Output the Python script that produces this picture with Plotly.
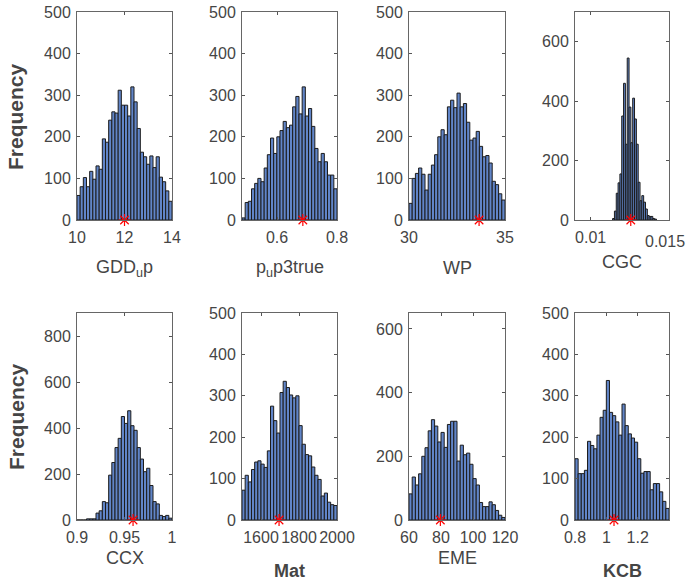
import numpy as np
import plotly.graph_objects as go

W, H = 687, 584

# ---------------- data ----------------
names = ["GDD<sub>u</sub>p", "p<sub>u</sub>p3true", "WP", "CGC", "CCX", "<b>Mat</b>", "EME", "<b>KCB</b>"]

gdd_counts = [59, 80, 102, 80, 117, 98, 130, 122, 195, 187, 240, 260, 257, 312, 276,
              276, 250, 320, 284, 220, 163, 152, 134, 154, 126, 152, 103, 92, 70, 45]
pup_counts = [5, 42, 45, 75, 88, 100, 92, 125, 157, 197, 160, 200, 215, 237, 222,
              228, 272, 297, 255, 320, 250, 268, 225, 172, 140, 160, 140, 108, 108, 75]
wp_counts = [40, 100, 112, 125, 110, 72, 110, 132, 157, 200, 217, 205, 272, 288, 270,
             305, 272, 280, 235, 192, 197, 213, 177, 152, 155, 137, 93, 85, 63, 48]
cgc_counts = [5, 30, 90, 125, 155, 350, 460, 255, 545, 380, 260, 410, 340, 255, 127,
              65, 82, 60, 37, 15, 12, 12, 5, 3]
ccx_counts = [0, 0, 0, 5, 5, 5, 30, 40, 80, 75, 195, 250, 315, 355, 450,
              420, 475, 410, 390, 315, 265, 210, 225, 150, 80, 70, 20, 15, 20, 8]
mat_counts = [72, 108, 92, 122, 140, 143, 135, 127, 167, 275, 240, 210, 308, 335, 320,
              302, 295, 300, 228, 183, 158, 155, 128, 108, 98, 58, 65, 43, 37, 35]
eme_counts = [82, 135, 110, 145, 200, 227, 280, 315, 295, 245, 275, 228, 300, 310, 310,
              185, 235, 205, 210, 175, 130, 110, 55, 42, 42, 57, 48, 30, 15, 8]
kcb_counts = [148, 112, 112, 120, 190, 180, 172, 205, 248, 265, 337, 260, 252, 237, 205,
              280, 228, 208, 198, 188, 148, 113, 117, 117, 73, 88, 88, 68, 45, 28]

counts = [gdd_counts, pup_counts, wp_counts, cgc_counts, ccx_counts, mat_counts, eme_counts, kcb_counts]
bin_lo = [10, 0.483, 30, 0.0114, 0.9, 1500, 60, 0.8]
bin_hi = [14, 0.8, 35, 0.0142, 1.0, 2000, 120, 1.4]
x_ranges = [[10, 14], [0.483, 0.8], [30, 35], [0.009, 0.015],
            [0.9, 1.0], [1500, 2000], [60, 120], [0.8, 1.4]]
y_ranges = [[0, 500], [0, 500], [0, 500], [0, 700],
            [0, 900], [0, 500], [0, 650], [0, 500]]
x_ticks = [[10, 12, 14], [0.6, 0.8], [30, 35], [0.01, 0.015],
           [0.9, 0.95, 1], [1600, 1800, 2000], [60, 80, 100, 120], [0.8, 1, 1.2]]
x_ticktext = [["10", "12", "14"], ["0.6", "0.8"], ["30", "35"], ["0.01", "0.015"],
              ["0.9", "0.95", "1"], ["1600", "1800", "2000"], ["60", "80", "100", "120"], ["0.8", "1", "1.2"]]
y_ticks = [[0, 100, 200, 300, 400, 500]] * 3 + [[0, 200, 400, 600]] + \
          [[0, 200, 400, 600, 800], [0, 100, 200, 300, 400, 500], [0, 200, 400, 600], [0, 100, 200, 300, 400, 500]]
best_vals = [12.0, 0.686, 33.65, 0.01256, 0.959, 1695, 79.6, 1.049]

# ---------------- layout geometry (pixels) ----------------
col_x = [(77, 172), (242, 337), (409, 505), (575, 669)]
row_y = [(12, 220), (313, 520)]
label_y = [[268, 268, 268, 262], [558, 571, 558, 571]]

FONT = "Liberation Sans, Arial"
TXT = "#454545"
BAR = "#6185c8"
EDGE = "#1c1c1c"
TICKSIZE = 16

fig = go.Figure()
layout = dict(width=W, height=H, margin=dict(l=0, r=0, t=0, b=0, pad=0, autoexpand=False),
              paper_bgcolor="white", plot_bgcolor="white", showlegend=False,
              annotations=[])

for i in range(8):
    r, c = divmod(i, 4)
    ax = "" if i == 0 else str(i + 1)
    n = len(counts[i])
    bw = (bin_hi[i] - bin_lo[i]) / n
    centers = bin_lo[i] + (np.arange(n) + 0.5) * bw
    fig.add_trace(go.Bar(x=centers, y=counts[i], width=bw,
                         marker=dict(color=BAR, line=dict(color=EDGE, width=1)),
                         xaxis="x" + ax, yaxis="y" + ax))
    fig.add_trace(go.Scatter(x=[best_vals[i]], y=[0], mode="markers",
                             marker=dict(symbol="asterisk-open", size=10, color="red",
                                         line=dict(color="red", width=1.2)),
                             cliponaxis=False, xaxis="x" + ax, yaxis="y" + ax))
    x0, x1 = col_x[c]
    y0, y1 = row_y[r]
    common = dict(showline=True, linecolor="#666", linewidth=1, mirror="ticks",
                  ticks="inside", ticklen=3, tickcolor="#555", showgrid=False,
                  zeroline=False, automargin=False, tickangle=0,
                  tickfont=dict(family=FONT, size=TICKSIZE, color=TXT))
    layout["xaxis" + ax] = dict(common, domain=[x0 / W, x1 / W], range=x_ranges[i],
                                tickvals=list(x_ticks[i]), ticktext=list(x_ticktext[i]),
                                ticklabelstandoff=3, anchor="y" + ax)
    layout["yaxis" + ax] = dict(common, domain=[1 - y1 / H, 1 - y0 / H], range=y_ranges[i],
                                tickvals=y_ticks[i], ticklabelstandoff=2, anchor="x" + ax)
    layout["annotations"].append(dict(text=names[i], xref="paper", yref="paper",
                                      x=(x0 + x1) / 2 / W, y=1 - label_y[r][c] / H,
                                      xanchor="center", yanchor="middle", showarrow=False,
                                      font=dict(family=FONT, size=18, color=TXT)))

# the right-most CGC tick label sits against the figure's right edge
layout["annotations"].append(dict(text=x_ticktext[3][1], xref="paper", yref="paper",
                                  x=1.0, y=1 - 231 / H,
                                  xanchor="right", yanchor="top", showarrow=False,
                                  font=dict(family=FONT, size=TICKSIZE, color=TXT)))

for yc in [117, 417]:
    layout["annotations"].append(dict(text="<b>Frequency</b>", xref="paper", yref="paper",
                                      x=16 / W, y=1 - yc / H, textangle=-90,
                                      xanchor="center", yanchor="middle", showarrow=False,
                                      font=dict(family=FONT, size=21, color=TXT)))

fig.update_layout(**layout)
fig.write_html("out.html")
